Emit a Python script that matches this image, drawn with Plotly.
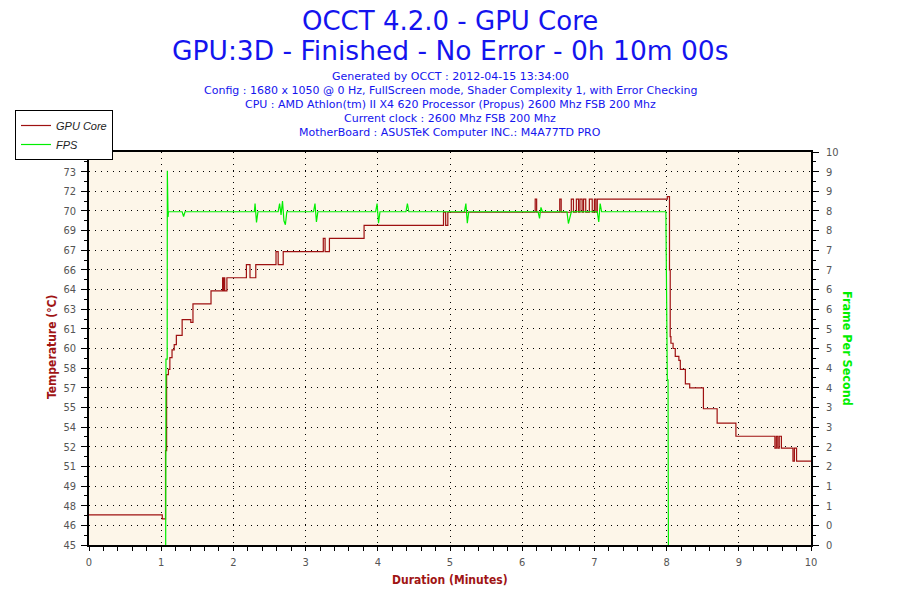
import plotly.graph_objects as go

# ---------------- data ----------------
temp_minutes = [0.0, 1.015, 1.06, 1.075, 1.10, 1.12, 1.15, 1.18, 1.21, 1.29, 1.41, 1.44,
                1.69, 1.85, 1.86, 1.87, 1.88, 1.91, 2.18, 2.23, 2.31, 2.59, 2.62, 2.69,
                3.245, 3.27, 3.33, 3.81, 4.91, 4.94, 4.97, 5.00,
                6.18, 6.20, 6.52, 6.54, 6.68, 6.71, 6.75, 6.78, 6.80, 6.83, 6.85, 6.88,
                6.93, 6.97, 7.00, 7.02, 7.04, 7.05, 8.01, 8.04, 8.05, 8.06, 8.07,
                8.09, 8.12, 8.17, 8.19, 8.26, 8.32, 8.51, 8.70, 8.96, 9.50, 9.52,
                9.54, 9.56, 9.59, 9.75, 9.77, 9.80, 10.0]
temp_values = [47.3, 47.0, 52.2, 58.0, 58.4, 59.3, 59.9, 60.3, 61.0, 62.2, 62.0, 63.4,
               64.4, 65.4, 64.4, 65.4, 64.4, 65.4, 66.4, 65.4, 66.4, 67.4, 66.4, 67.4,
               68.4, 67.4, 68.4, 69.4, 70.4, 69.4, 70.4, 70.4,
               71.4, 70.4, 71.4, 70.4, 71.4, 70.4, 71.4, 70.4, 71.4, 70.4, 71.4, 70.4,
               71.4, 70.4, 71.4, 70.4, 71.4, 71.4, 71.6, 66.0, 60.9, 60.4, 60.4,
               60.0, 59.4, 59.1, 58.4, 57.3, 57.0, 55.4, 54.3, 53.3, 52.4, 53.3,
               52.4, 53.3, 52.4, 51.4, 52.4, 51.4, 51.4]

fps_minutes = [1.062, 1.066, 1.083, 1.085, 1.09, 1.095, 1.10, 1.29, 1.31, 1.33,
               2.29, 2.30, 2.32, 2.34, 2.62, 2.64, 2.66, 2.68, 2.70, 2.72, 2.74,
               3.11, 3.13, 3.15, 3.17, 3.97, 3.99, 4.01, 4.03, 4.39, 4.41, 4.43,
               5.20, 5.22, 5.24, 5.26, 6.22, 6.24, 6.26, 6.28, 6.62, 6.64, 6.66, 6.68,
               7.04, 7.06, 7.08, 7.10, 7.99, 7.995, 8.005, 8.01, 8.02, 8.025]
fps_values = [0.0, 4.73, 4.73, 9.52, 8.9, 8.35, 8.48, 8.48, 8.36, 8.48,
              8.48, 8.69, 8.21, 8.48, 8.48, 8.69, 8.40, 8.75, 8.25, 8.15, 8.48,
              8.48, 8.69, 8.22, 8.48, 8.48, 8.69, 8.19, 8.48, 8.48, 8.69, 8.48,
              8.48, 8.69, 8.19, 8.48, 8.48, 8.31, 8.59, 8.48, 8.48, 8.18, 8.35, 8.48,
              8.48, 8.22, 8.69, 8.48, 8.48, 7.04, 7.04, 4.2, 4.2, 0.0]

x_tick_vals = [0, 1, 2, 3, 4, 5, 6, 7, 8, 9, 10]
x_tick_text = ["0", "1", "2", "3", "4", "5", "6", "7", "8", "9", "10"]
temp_tick_vals = [45, 46.5, 48, 49.5, 51, 52.5, 54, 55.5, 57, 58.5, 60, 61.5, 63, 64.5,
                  66, 67.5, 69, 70.5, 72, 73.5, 75]
temp_tick_text = ["45", "46", "48", "49", "51", "52", "54", "55", "57", "58", "60", "61",
                  "63", "64", "66", "67", "69", "70", "72", "73", "75"]
fps_tick_vals = [0, 0.5, 1, 1.5, 2, 2.5, 3, 3.5, 4, 4.5, 5, 5.5, 6, 6.5, 7, 7.5, 8, 8.5,
                 9, 9.5, 10]
fps_tick_text = ["0", "0", "1", "1", "2", "2", "3", "3", "4", "4", "5", "5", "6", "6",
                 "7", "7", "8", "8", "9", "9", "10"]

title_line1 = "OCCT 4.2.0 - GPU Core"
title_line2 = "GPU:3D - Finished - No Error - 0h 10m 00s"
info_lines = [
    "Generated by OCCT : 2012-04-15 13:34:00",
    "Config : 1680 x 1050 @ 0 Hz, FullScreen mode, Shader Complexity 1, with Error Checking",
    "CPU : AMD Athlon(tm) II X4 620 Processor (Propus) 2600 Mhz FSB 200 Mhz",
    "Current clock : 2600 Mhz FSB 200 Mhz",
    "MotherBoard : ASUSTeK Computer INC.: M4A77TD PRO",
]

# ---------------- styling ----------------
NARROW = "Liberation Sans Narrow, Arial Narrow, DejaVu Sans Condensed, Liberation Sans, sans-serif"
VERD = "DejaVu Sans, Verdana, sans-serif"
TICKFONT = dict(family=NARROW, size=11, color="#555555")
BLUE = "#1414EE"
DARKRED = "#A01414"
GRID = dict(showgrid=True, gridcolor="#000000", gridwidth=1, griddash="1px,5px")

# the page places the figure 8px from the top-left corner of the window,
# so the figure is sized and laid out in window coordinates minus that offset
OFF = 8
W, H = 900 - OFF, 600 - OFF
L, R, T, B = 89 - OFF, 89, 152 - OFF, 55

fig = go.Figure()
fig.add_trace(go.Scatter(x=temp_minutes, y=temp_values, name="GPU Core", mode="lines",
                         line=dict(color="#9E1111", width=1.2, shape="hv"),
                         xaxis="x", yaxis="y"))
fig.add_trace(go.Scatter(x=fps_minutes, y=fps_values, name="FPS", mode="lines",
                         line=dict(color="#00EE00", width=1.2),
                         xaxis="x", yaxis="y2"))

common_x = dict(range=[0, 10], tickmode="array", tickvals=x_tick_vals, zeroline=False,
                tickcolor="black")
fig.update_layout(
    width=W, height=H,
    paper_bgcolor="white", plot_bgcolor="#FDF6E9",
    margin=dict(l=L, r=R, t=T, b=B, autoexpand=False),
    showlegend=True,
    xaxis=dict(**common_x, ticktext=x_tick_text, ticks="outside", ticklen=4,
               showline=True, linecolor="black", linewidth=1.5, mirror=True,
               tickfont=TICKFONT, ticklabelstandoff=2,
               minor=dict(ticks="outside", ticklen=4, tickmode="linear", tick0=0,
                          dtick=0.2, tickcolor="black", showgrid=False),
               **GRID),
    xaxis2=dict(**common_x, overlaying="x", anchor="y", ticks="inside", ticklen=4,
                showticklabels=False, showline=False, showgrid=False,
                minor=dict(ticks="inside", ticklen=4, tickmode="linear", tick0=0,
                           dtick=0.2, tickcolor="black", showgrid=False)),
    yaxis=dict(range=[45, 75], tickmode="array", tickvals=temp_tick_vals,
               ticktext=temp_tick_text, ticks="outside", ticklen=6, tickcolor="black",
               showline=True, linecolor="black", linewidth=1.5, zeroline=False,
               tickfont=TICKFONT, ticklabelstandoff=3,
               minor=dict(ticks="outside", ticklen=3, tickmode="linear", tick0=45,
                          dtick=0.75, tickcolor="black", showgrid=False),
               **GRID),
    yaxis3=dict(range=[45, 75], overlaying="y", side="left", anchor="x",
                tickmode="array", tickvals=temp_tick_vals, ticks="inside", ticklen=7,
                tickcolor="black", showticklabels=False, showline=False,
                showgrid=False, zeroline=False,
                minor=dict(ticks="inside", ticklen=3, tickmode="linear", tick0=45,
                           dtick=0.75, tickcolor="black", showgrid=False)),
    yaxis2=dict(range=[0, 10], overlaying="y", side="right", anchor="x",
                tickmode="array", tickvals=fps_tick_vals, ticktext=fps_tick_text,
                ticks="outside", ticklen=6, tickcolor="black", showline=True,
                linecolor="black", linewidth=1.5, showgrid=False, zeroline=False,
                tickfont=TICKFONT, ticklabelstandoff=5,
                minor=dict(ticks="outside", ticklen=3, tickmode="linear", tick0=0,
                           dtick=0.25, tickcolor="black", showgrid=False)),
    yaxis4=dict(range=[0, 10], overlaying="y", side="right", anchor="x",
                tickmode="array", tickvals=fps_tick_vals, ticks="inside", ticklen=7,
                tickcolor="black", showticklabels=False, showline=False,
                showgrid=False, zeroline=False,
                minor=dict(ticks="inside", ticklen=3, tickmode="linear", tick0=0,
                           dtick=0.25, tickcolor="black", showgrid=False)),
    legend=dict(x=(15 - OFF) / W, y=1 - (110 - OFF) / H, xref="container",
                yref="container", xanchor="left", yanchor="top", bgcolor="white",
                bordercolor="black", borderwidth=1, itemwidth=30, tracegroupgap=0,
                entrywidth=64, entrywidthmode="pixels",
                font=dict(family="Liberation Sans, Arial, sans-serif", size=11,
                          color="#222222", style="italic")),
)


def to_paper(px, py):
    # px, py are window pixel coordinates
    fx, fy = px - OFF, py - OFF
    return (fx - L) / (W - L - R), 1 - (fy - T) / (H - T - B)


annotations = []
specs = [
    (title_line1, 450, 21, 0, dict(family=VERD, size=26, color=BLUE)),
    (title_line2, 450, 51, 0, dict(family=VERD, size=26.5, color=BLUE)),
]
for i, line in enumerate(info_lines):
    specs.append((line, 450, 76 + 14 * i, 0, dict(family=VERD, size=11, color=BLUE)))
specs += [
    ("<b>Temperature (°C)</b>", 52, 347, -90, dict(family=NARROW, size=12, color=DARKRED)),
    ("<b>Duration (Minutes)</b>", 450, 580, 0, dict(family=NARROW, size=12, color=DARKRED)),
    ("<b>Frame Per Second</b>", 848, 348, 90, dict(family=NARROW, size=12.5, color="#00EE00")),
]
for text, px, py, ang, font in specs:
    ax, ay = to_paper(px, py)
    annotations.append(dict(text=text, x=ax, y=ay, xref="paper", yref="paper",
                            showarrow=False, xanchor="center", yanchor="middle",
                            textangle=ang, font=font))
fig.update_layout(annotations=annotations)

fig.write_html("out.html")
